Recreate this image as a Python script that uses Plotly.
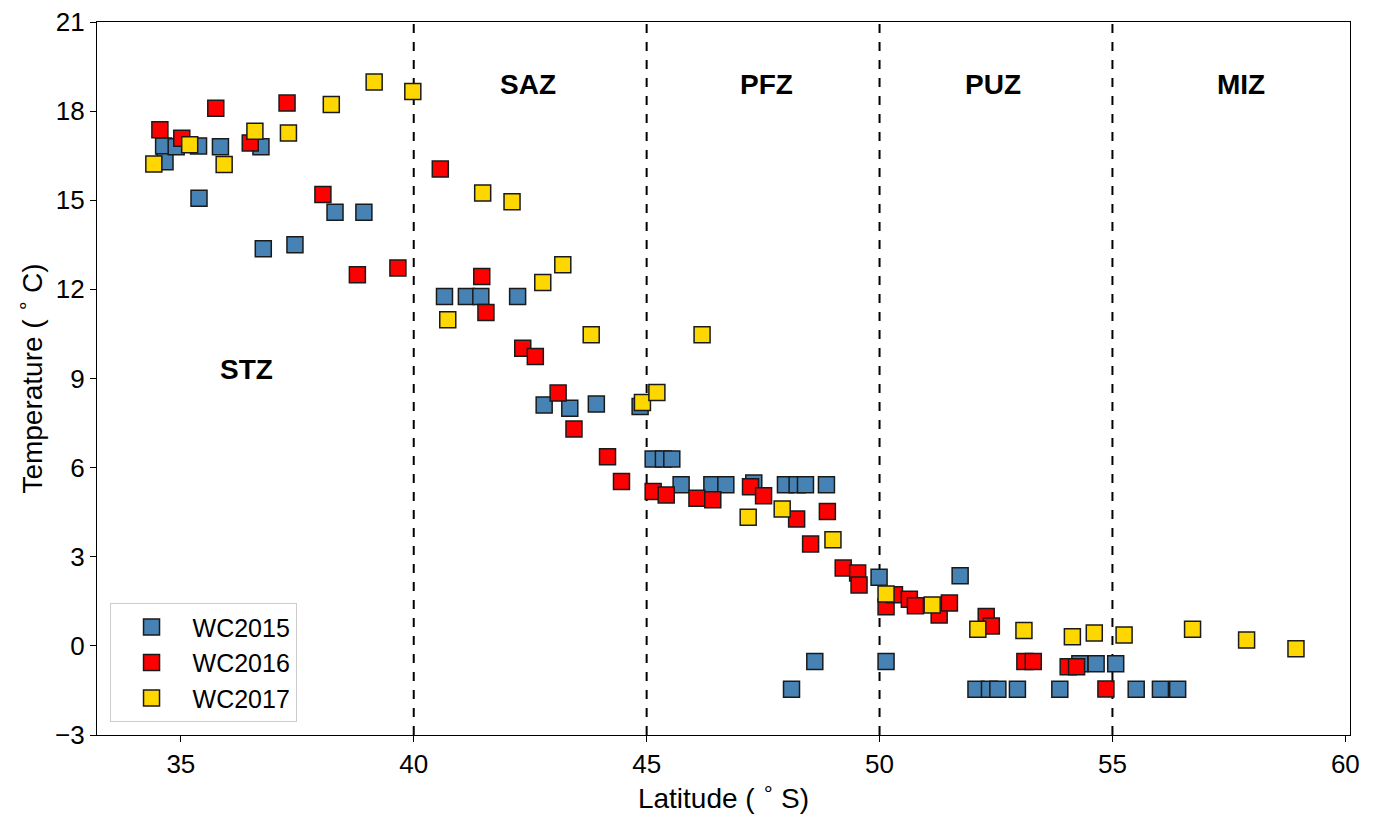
import plotly.graph_objects as go

# Surface temperature along the transects, by cruise year
lat_2015 = [34.63, 34.66, 34.90, 35.38, 35.85, 36.72, 35.39, 38.31, 38.93, 36.77, 37.45,
            40.66, 41.13, 41.44, 42.23, 42.80, 43.35, 43.92, 44.86, 45.14, 45.36, 45.54,
            45.74, 46.40, 46.70, 47.30, 47.98, 48.23, 48.41, 48.86, 49.99, 51.73, 48.61,
            50.14, 48.11, 52.07, 52.36, 52.54, 52.96, 53.87, 54.30, 54.65, 55.07, 55.51,
            56.03, 56.40]
temp_2015 = [16.83, 16.30, 16.80, 16.83, 16.80, 16.80, 15.07, 14.60, 14.60, 13.37, 13.50,
             11.76, 11.76, 11.76, 11.76, 8.11, 8.00, 8.14, 8.06, 6.29, 6.29, 6.29,
             5.42, 5.42, 5.42, 5.48, 5.42, 5.42, 5.42, 5.42, 2.31, 2.36, -0.53,
             -0.53, -1.46, -1.46, -1.46, -1.46, -1.46, -1.46, -0.60, -0.60, -0.60, -1.46,
             -1.46, -1.46]

lat_2016 = [34.55, 35.02, 35.75, 36.49, 37.28, 38.05, 38.79, 39.66, 40.57, 41.46, 41.55,
            42.34, 42.61, 43.10, 43.44, 44.16, 44.46, 45.14, 45.42, 46.08, 46.42, 47.23,
            47.51, 48.22, 48.88, 48.52, 49.22, 49.53, 49.56, 50.14, 50.32, 50.64, 50.77,
            51.28, 51.50, 52.29, 52.40, 53.12, 53.30, 54.05, 54.23, 54.86]
temp_2016 = [17.37, 17.09, 18.10, 16.93, 18.27, 15.19, 12.49, 12.72, 16.05, 12.43, 11.22,
             10.02, 9.74, 8.51, 7.30, 6.37, 5.53, 5.20, 5.08, 4.97, 4.92, 5.36,
             5.05, 4.27, 4.52, 3.43, 2.62, 2.45, 2.05, 1.32, 1.72, 1.57, 1.35,
             1.04, 1.44, 0.99, 0.67, -0.53, -0.53, -0.70, -0.70, -1.45]

lat_2017 = [34.42, 35.19, 35.93, 36.59, 37.31, 38.23, 39.15, 39.98, 41.48, 42.11, 42.77,
            43.20, 40.73, 43.81, 46.19, 44.91, 45.22, 47.18, 47.91, 49.00, 50.14, 51.13,
            52.11, 53.10, 54.14, 54.61, 55.25, 56.72, 57.88, 58.94]
temp_2017 = [16.22, 16.87, 16.20, 17.32, 17.26, 18.22, 18.98, 18.66, 15.24, 14.95, 12.23,
             12.83, 10.98, 10.47, 10.47, 8.19, 8.53, 4.33, 4.61, 3.57, 1.75, 1.38,
             0.56, 0.52, 0.31, 0.43, 0.37, 0.56, 0.20, -0.10]

# Frontal zone boundaries and labels
front_lats = [40, 45, 50, 55]
zone_names = ["STZ", "SAZ", "PFZ", "PUZ", "MIZ"]
zone_x = [36.4, 42.46, 47.57, 52.43, 57.76]
zone_y = [9.3, 18.9, 18.9, 18.9, 18.9]

x_ticks = [35, 40, 45, 50, 55, 60]
y_ticks = [-3, 0, 3, 6, 9, 12, 15, 18, 21]

FONT = "Liberation Sans, Arial, sans-serif"

series = [
    ("WC2015", lat_2015, temp_2015, "#4682B4"),
    ("WC2016", lat_2016, temp_2016, "#FF0000"),
    ("WC2017", lat_2017, temp_2017, "#FFD700"),
]

fig = go.Figure()
for name, xs, ys, color in series:
    fig.add_trace(go.Scatter(
        x=xs, y=ys, mode="markers", name=name,
        marker=dict(symbol="square", size=16, color=color,
                    line=dict(color="#1a1a1a", width=1.5)),
    ))

for lat in front_lats:
    fig.add_shape(type="line", x0=lat, x1=lat, y0=0, y1=1, xref="x", yref="paper",
                  line=dict(color="black", width=2, dash="dash"), layer="below")

for name, zx, zy in zip(zone_names, zone_x, zone_y):
    fig.add_annotation(x=zx, y=zy, text=f"<b>{name}</b>", showarrow=False,
                       font=dict(family=FONT, size=28, color="black"))

axis_common = dict(
    showline=True, linecolor="black", linewidth=1.2, mirror=True,
    ticks="outside", ticklen=6, tickwidth=1.2, tickcolor="black",
    showgrid=False, zeroline=False, automargin=False,
    tickfont=dict(family=FONT, size=26, color="black"),
)

fig.update_layout(
    width=1376, height=814,
    margin=dict(l=97, r=26, t=22, b=79),
    paper_bgcolor="white", plot_bgcolor="white",
    font=dict(family=FONT, size=26, color="black"),
    xaxis=dict(range=[33.2, 60.1], tickvals=x_ticks,
               title=dict(text="Latitude ( <sup>∘</sup>\u2009S)",
                          font=dict(family=FONT, size=28), standoff=2),
               **axis_common),
    yaxis=dict(range=[-3, 21], tickvals=y_ticks,
               title=dict(text="Temperature ( <sup>∘</sup>\u2009C)",
                          font=dict(family=FONT, size=28), standoff=4),
               **axis_common),
    legend=dict(x=0.01, y=0.018, xanchor="left", yanchor="bottom",
                bgcolor="white", bordercolor="#cccccc", borderwidth=1,
                font=dict(family=FONT, size=25, color="black"),
                itemwidth=72),
    showlegend=True,
)

fig.write_html("out.html")
